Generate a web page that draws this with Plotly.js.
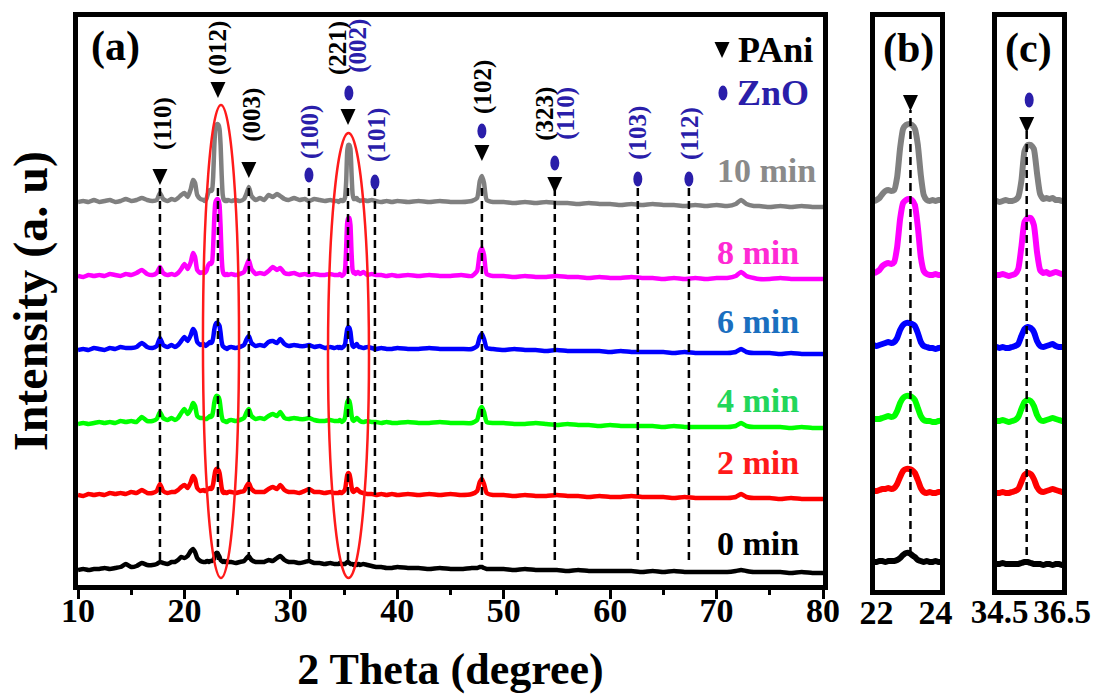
<!DOCTYPE html>
<html>
<head>
<meta charset="utf-8">
<script src="https://cdn.plot.ly/plotly-3.0.1.min.js"></script>
<style>
html,body{margin:0;padding:0;background:#fff;}
#chart{width:1106px;height:694px;}
</style>
</head>
<body>
<div id="chart"></div>
<script>
// ---------------- DATA ----------------
const twoTheta = [10, 10.5, 11, 11.5, 12, 12.5, 13, 13.5, 14, 14.5, 15, 15.5, 16, 16.5, 17, 17.4, 17.7, 18.0, 18.4, 18.8, 19.1, 19.4, 19.7, 20.0, 20.3, 20.6, 20.8, 21.0, 21.2, 21.5, 21.8,
  21.9, 22.0, 22.1, 22.2, 22.3, 22.4, 22.5, 22.6, 22.7, 22.8, 22.9, 23.0, 23.1, 23.2, 23.3, 23.4, 23.5, 23.6, 23.7, 23.8, 23.9, 24.0, 24.1,
  24.4, 24.8, 25.2, 25.6, 25.85, 26.05, 26.3, 26.7, 27.1, 27.5, 27.9, 28.3, 28.7, 29.0, 29.4, 29.8, 30.3, 30.8, 31.3, 31.7, 32.2, 32.7, 33.2, 33.7, 34.1,
  34.4, 34.5, 34.6, 34.7, 34.8, 34.9, 35.0, 35.1, 35.2, 35.3, 35.4, 35.5, 35.6, 35.7, 35.8, 35.9, 36.0, 36.1, 36.2, 36.3, 36.4, 36.5,
  36.8, 37.2, 37.6, 38.0, 38.5, 39, 39.5, 40, 41, 42, 43, 44, 45, 46, 47, 47.5, 47.75, 47.95, 48.15, 48.4, 49, 50, 51, 52, 53, 54, 55, 56, 57, 58, 59, 60, 61, 62, 63, 64, 65, 66, 67, 68, 69, 70, 71, 71.8, 72.3, 72.8, 73.5, 74, 75, 76, 77, 78, 79, 80];

const int10 = [1,2,1,3,1,2,3,1,2,4,2,3,5,3,2,3,10,4,2,4,3,5,8,10,6,14,23,20,8,4,3,
  2,3,5,9,12,13,12,13,26,55,74,78,79,78,74,58,28,8,3,2,3,2,3,
  2,3,2,4,10,16,7,3,5,3,8,6,9,7,4,3,5,3,4,2,4,3,2,3,2,
  2,1,2,3,2,2,3,6,22,52,58,58,54,30,9,4,5,4,5,3,3,2,
  3,2,3,2,1,2,1,2, 1,2,1,2,1,1,2, 5,22,27,20,3, 1,1,0,1,0,1,0,0,-1,0,-1,-1,-2,-1,-2,-1,-2,-2,-3,-2,-3,-2,-3, -1,3,-1,-3, -3,-4,-3,-4,-3,-4,-4];

const int8 = [1,0,2,1,2,1,3,2,1,3,2,4,7,3,2,4,10,4,2,3,2,4,8,13,8,15,24,20,7,4,5,
  4,5,7,11,13,14,13,15,30,58,74,77,78,77,72,50,20,6,3,2,2,3,2,
  3,2,3,5,12,17,8,3,4,3,6,10,7,9,4,3,4,2,3,2,3,2,2,3,2,
  2,2,3,2,1,2,3,8,30,55,59,59,52,25,7,4,5,3,4,5,4,3,
  5,2,3,2,2,1,2,1, 2,1,2,1,1,2,1, 6,24,29,22,3, 1,1,0,1,0,0,1,0,0,-1,0,-1,-1,0,-1,-1,-2,-1,-2,-1,-2,-1,-1, 1,5,1,-1, -2,-2,-1,-2,-2,-2,-2];

const int6 = [0,1,0,2,1,0,2,1,3,2,2,3,7,3,2,4,12,5,3,5,3,5,9,13,9,15,21,18,8,5,6,
  5,4,5,6,7,8,7,8,12,20,25,27,27,26,24,17,8,4,3,2,2,1,2,
  3,2,3,5,11,14,7,4,5,4,8,9,7,11,6,4,5,4,4,5,3,4,2,3,2,
  3,2,3,2,2,3,4,6,14,21,23,22,18,9,4,3,4,5,6,4,3,3,
  2,3,2,1,2,1,1,2, 1,1,2,1,1,1,1, 4,13,16,11,2, 1,0,1,0,0,-1,0,-1,-1,-1,-1,-2,-1,-2,-2,-2,-2,-3,-2,-3,-3,-3,-3, -2,1,-2,-3, -3,-3,-4,-3,-4,-4,-4];

const int4 = [0,1,0,1,2,1,2,1,3,2,3,2,7,3,3,5,12,6,4,6,4,6,11,15,10,15,21,18,8,6,6,
  5,5,5,6,7,8,7,8,13,21,26,28,28,27,24,16,8,4,3,3,2,2,3,
  4,3,4,6,12,15,8,5,6,5,8,10,8,12,6,5,6,5,5,6,4,3,3,4,3,
  3,3,4,3,2,3,4,7,15,22,24,23,18,9,4,3,4,5,6,5,4,3,
  2,3,2,2,1,2,1,1, 2,1,1,2,1,1,1, 4,14,17,12,2, 1,1,0,0,1,0,-1,0,-1,-1,-2,-1,-2,-2,-2,-2,-3,-2,-3,-3,-3,-3,-3, -2,1,-2,-3, -3,-3,-3,-4,-3,-4,-4];

const int2 = [0,-1,1,0,1,0,2,1,2,1,3,2,5,2,2,4,11,4,2,3,3,5,8,10,7,13,19,16,7,4,5,
  4,4,5,6,6,7,6,7,11,18,24,26,26,25,22,15,7,3,2,3,2,2,3,
  3,2,3,4,9,12,6,3,3,3,6,8,6,10,5,3,3,2,4,6,3,3,2,3,2,
  2,2,3,2,2,3,4,6,13,20,22,21,16,8,4,3,4,5,6,5,4,3,
  2,1,1,0,1,0,1,0, 1,0,1,0,1,0,1, 4,13,16,11,2, 0,0,-1,0,-1,-1,0,-1,-1,-2,-1,-2,-2,-1,-2,-2,-2,-3,-2,-3,-3,-3,-3, -2,1,-2,-3, -3,-3,-4,-3,-4,-4,-4];

const int0 = [0,1,0,1,1,2,1,2,3,6,3,4,7,5,5,6,8,7,6,8,8,10,13,12,14,19,21,18,12,9,8,
  8,8,9,9,8,9,9,9,10,12,15,17,17,15,13,10,9,8,9,8,8,9,8,
  8,7,8,9,12,14,10,8,8,8,10,9,12,14,10,8,8,7,8,9,7,7,6,7,6,
  6,6,7,6,6,6,6,6,7,8,8,7,6,6,6,5,6,6,5,6,6,5,
  6,5,4,3,3,2,2,3, 2,2,1,2,1,1,2, 2,3,3,2,1, 1,1,0,1,0,0,0,-1,0,-1,-1,-1,-1,-1,-2,-1,-2,-1,-2,-2,-2,-2,-2, -1,0,-1,-2, -2,-2,-2,-3,-2,-3,-3];

const seriesNames = ['10 min', '8 min', '6 min', '4 min', '2 min', '0 min'];
const seriesValues = [int10, int8, int6, int4, int2, int0];

const pAniPeaks = [17.7, 23.15, 26.05, 35.37, 47.95, 54.8];
const pAniHkl = ['(110)', '(012)', '(003)', '(221)', '(102)', '(323)'];
const znoPeaks = [31.7, 35.45, 37.9, 47.95, 54.8, 62.6, 67.4];
const znoHkl = ['(100)', '(002)', '(101)', '', '(110)', '(103)', '(112)'];

const mainTicks = [10, 20, 30, 40, 50, 60, 70, 80];
const insetBTicks = [22, 24];
const insetCTicks = [34.5, 36.5];

// ---------------- STYLE / LAYOUT ----------------
const FONT = 'Liberation Serif, Times New Roman, serif';
const offsets = [382, 308, 235, 161, 90, 15];
const lineColors = ['#808080', '#ff00ff', '#0000ff', '#00ff00', '#ff0000', '#000000'];
const labelColors = ['#8a8a8a', '#ff2ad4', '#1a6fbf', '#22d65a', '#ff1a1a', '#000000'];
const labelY = [415, 333, 264, 185, 123, 42];
const ZNO_BLUE = '#2a1eaa';

const pAniMarkY = [408, 495, 415, 468, 432, 400];
const pAniLabelY = [462, 537, 470, 537, 498, 471];
const pAniLabelDx = [3, 0, 3, -10, 1, -10];
const znoMarkY = [410, 492, 403, 454, 422, 406, 406];
const znoLabelY = [453, 539, 450, 0, 472, 452, 452];
const znoLabelDx = [1, 9, 2, 0, 11, 0, 1];

const traces = [];
const axesSets = [{xa: 'x', ya: 'y', w: 4.5}, {xa: 'x2', ya: 'y2', w: 6}, {xa: 'x3', ya: 'y3', w: 6}];
axesSets.forEach(a => {
  seriesValues.forEach((vals, i) => {
    traces.push({
      type: 'scatter', mode: 'lines',
      x: twoTheta, y: vals.map(v => v + offsets[i]),
      xaxis: a.xa, yaxis: a.ya,
      name: seriesNames[i], showlegend: false, hoverinfo: 'skip',
      line: {color: lineColors[i], width: a.w, shape: 'spline', smoothing: 0.5}
    });
  });
});

const shapes = [];
const annotations = [];

function tri(xref, yref, x, y) {
  shapes.push({type: 'path', xref: xref, yref: yref, xsizemode: 'pixel', ysizemode: 'pixel',
    xanchor: x, yanchor: y, path: 'M-7.5,8L7.5,8L0,-8Z', fillcolor: 'black', line: {width: 0}, layer: 'above'});
}
function ell(xref, yref, x, y) {
  shapes.push({type: 'circle', xref: xref, yref: yref, xsizemode: 'pixel', ysizemode: 'pixel',
    xanchor: x, yanchor: y, x0: -4.5, x1: 4.5, y0: -7.5, y1: 7.5, fillcolor: ZNO_BLUE, line: {width: 0}, layer: 'above'});
}
function dash(xref, yref, x, y0, y1) {
  shapes.push({type: 'line', xref: xref, yref: yref, x0: x, x1: x, y0: y0, y1: y1, layer: 'above',
    line: {color: 'black', width: 2.5, dash: '8px,5px'}});
}

// dashed reference lines (main)
const dashX = pAniPeaks.slice();
znoPeaks.forEach(p => { if (!dashX.some(q => Math.abs(q - p) < 0.2)) dashX.push(p); });
dashX.forEach(p => dash('x', 'y', p, 25, 398));
// insets
dash('x2', 'y2', pAniPeaks[1], 30, 475);
dash('x3', 'y3', pAniPeaks[3], 30, 457);

// red highlight ovals
shapes.push({type: 'circle', xref: 'x', yref: 'y', x0: 21.74, x1: 25.13, y0: 7, y1: 480, layer: 'above', line: {color: '#ff1a1a', width: 2.5}});
shapes.push({type: 'circle', xref: 'x', yref: 'y', x0: 33.49, x1: 37.34, y0: 7, y1: 452, layer: 'above', line: {color: '#ff1a1a', width: 2.5}});

// phase markers + hkl labels
pAniPeaks.forEach((p, i) => {
  tri('x', 'y', p, pAniMarkY[i]);
  annotations.push({x: p, y: pAniLabelY[i], xref: 'x', yref: 'y', xshift: pAniLabelDx[i], text: pAniHkl[i], textangle: -90,
    showarrow: false, xanchor: 'center', yanchor: 'middle', font: {family: FONT, size: 25, color: 'black', weight: 'bold'}});
});
znoPeaks.forEach((p, i) => {
  ell('x', 'y', p, znoMarkY[i]);
  if (znoHkl[i]) {
    annotations.push({x: p, y: znoLabelY[i], xref: 'x', yref: 'y', xshift: znoLabelDx[i], text: znoHkl[i], textangle: -90,
      showarrow: false, xanchor: 'center', yanchor: 'middle', font: {family: FONT, size: 25, color: ZNO_BLUE, weight: 'bold'}});
  }
});
// inset markers
tri('x2', 'y2', pAniPeaks[1], 482);
ell('x3', 'y3', znoPeaks[1], 485);
tri('x3', 'y3', pAniPeaks[3], 460);

// legend
tri('x', 'y', 70.51, 535);
ell('x', 'y', 70.6, 492);
annotations.push({x: 71.83, y: 535, xref: 'x', yref: 'y', text: 'PAni', showarrow: false, xanchor: 'left', yanchor: 'middle',
  font: {family: FONT, size: 36, color: 'black', weight: 'bold'}});
annotations.push({x: 71.7, y: 492, xref: 'x', yref: 'y', text: 'ZnO', showarrow: false, xanchor: 'left', yanchor: 'middle',
  font: {family: FONT, size: 36, color: ZNO_BLUE, weight: 'bold'}});

// series labels
seriesNames.forEach((n, i) => {
  annotations.push({x: 69.85, y: labelY[i], xref: 'x', yref: 'y', text: n, showarrow: false, xanchor: 'left', yanchor: 'middle',
    font: {family: FONT, size: 34, color: labelColors[i], weight: 'bold'}});
});

// panel labels
annotations.push({x: 13.48, y: 539, xref: 'x', yref: 'y', text: '(a)', showarrow: false, xanchor: 'center', yanchor: 'middle',
  font: {family: FONT, size: 42, color: 'black', weight: 'bold'}});
annotations.push({x: 23.07, y: 537, xref: 'x2', yref: 'y2', text: '(b)', showarrow: false, xanchor: 'center', yanchor: 'middle',
  font: {family: FONT, size: 42, color: 'black', weight: 'bold'}});
annotations.push({x: 35.43, y: 537, xref: 'x3', yref: 'y3', text: '(c)', showarrow: false, xanchor: 'center', yanchor: 'middle',
  font: {family: FONT, size: 42, color: 'black', weight: 'bold'}});

const boxAxis = {showline: true, linewidth: 5, linecolor: 'black', mirror: true, showgrid: false, zeroline: false};
const tickFont = {family: FONT, size: 34, color: 'black', weight: 'bold'};

const layout = {
  width: 1106, height: 694,
  margin: {l: 78, r: 44, t: 17, b: 104},
  paper_bgcolor: 'white', plot_bgcolor: 'white',
  font: {family: FONT, color: 'black', size: 34},
  showlegend: false,
  xaxis: Object.assign({}, boxAxis, {
    domain: [0, 745 / 984], range: [10, 80], anchor: 'y',
    ticks: 'outside', ticklen: 9, tickwidth: 3, tickcolor: 'black',
    tickmode: 'array', tickvals: mainTicks, ticktext: mainTicks.map(String), tickangle: 0,
    ticklabelstandoff: -18,
    minor: {dtick: 5, tick0: 5, ticks: 'outside', ticklen: 5, tickwidth: 3, tickcolor: 'black', showgrid: false},
    tickfont: tickFont,
    title: {text: '2 Theta (degree)', font: {family: FONT, size: 44, color: 'black', weight: 'bold'}, standoff: 28}
  }),
  yaxis: Object.assign({}, boxAxis, {
    domain: [5 / 573, 1], range: [0, 568], anchor: 'x', ticks: '', showticklabels: false,
    title: {text: 'Intensity (a. u)', font: {family: FONT, size: 48, color: 'black', weight: 'bold'}, standoff: 12}
  }),
  xaxis2: Object.assign({}, boxAxis, {
    domain: [797 / 984, 862 / 984], range: [21.95, 24.15], anchor: 'y2', ticks: '', tickangle: 0,
    ticklabelstandoff: -12,
    tickmode: 'array', tickvals: insetBTicks, ticktext: insetBTicks.map(String), tickfont: tickFont
  }),
  yaxis2: Object.assign({}, boxAxis, {domain: [0, 1], range: [-5, 568], anchor: 'x2', ticks: '', showticklabels: false}),
  xaxis3: Object.assign({}, boxAxis, {
    domain: [919 / 984, 1], range: [34.42, 36.5], anchor: 'y3', ticks: '', tickangle: 0,
    ticklabelstandoff: -12,
    tickmode: 'array', tickvals: insetCTicks, ticktext: insetCTicks.map(String),
    tickfont: {family: FONT, size: 33, color: 'black', weight: 'bold'}
  }),
  yaxis3: Object.assign({}, boxAxis, {domain: [0, 1], range: [-5, 568], anchor: 'x3', ticks: '', showticklabels: false}),
  shapes: shapes,
  annotations: annotations
};

Plotly.newPlot('chart', traces, layout, {staticPlot: true, displayModeBar: false});
</script>
</body>
</html>
